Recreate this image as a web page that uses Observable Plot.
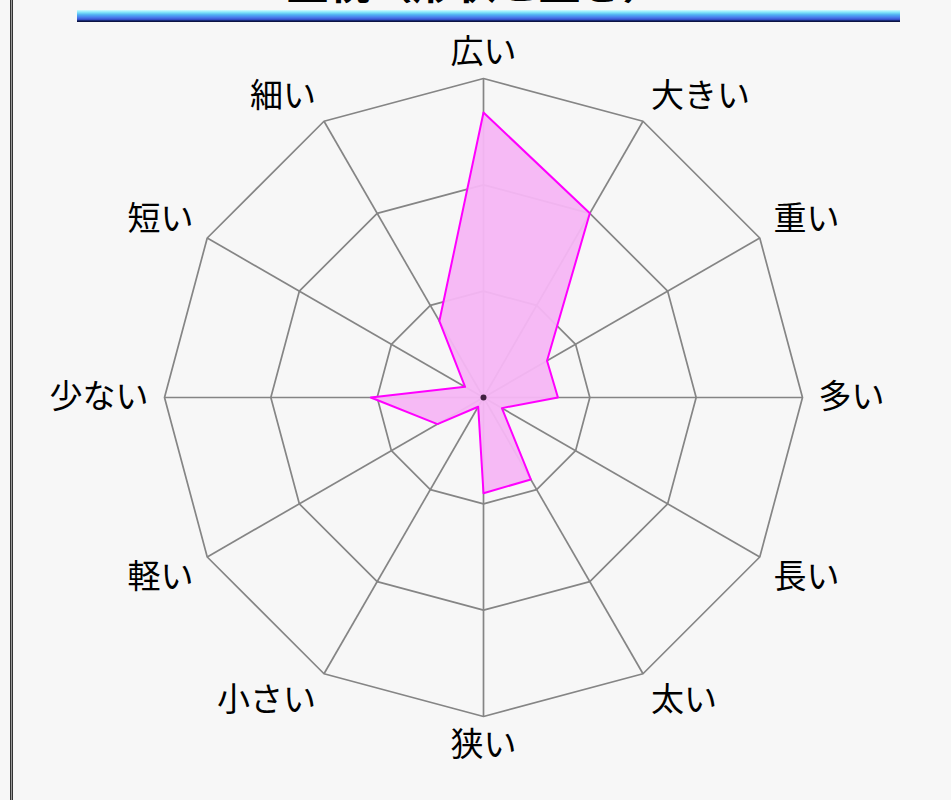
<!DOCTYPE html>
<html><head><meta charset="utf-8">
<script src="https://cdn.jsdelivr.net/npm/d3@7"></script>
<script src="https://cdn.jsdelivr.net/npm/@observablehq/plot@0.6"></script>
<style>
body{margin:0;background:#f7f7f7;width:951px;height:800px;overflow:hidden;position:relative;font-family:"Noto Sans CJK JP",sans-serif;}
#border{position:absolute;left:10px;top:0;width:1px;height:800px;border-left:1px solid #333;border-right:1px solid #333;background:#999;}
#title{position:absolute;top:-40px;left:0;width:951px;text-align:center;font-size:42px;font-weight:bold;line-height:42px;color:#000;}
#bar{position:absolute;left:77px;top:10px;width:823px;height:12px;background:linear-gradient(to bottom,#d0fbff 0%,#80e4fa 20%,#50b0f2 40%,#4a80ee 60%,#3a56d4 78%,#102060 90%,#0a0a30 100%);}
#chart{position:absolute;left:0;top:0;}
</style></head>
<body>
<div id="border"></div>
<div id="title">重視（形状と重さ）</div>
<div id="bar"></div>
<div id="chart"></div>
<script>
const axes = ["広い","大きい","重い","多い","長い","太い","狭い","小さい","軽い","少ない","短い","細い"];
const values = [2.68, 2.0, 0.69, 0.70, 0.2, 0.89, 0.9, 0.1, 0.5, 1.06, 0.2, 0.83];
const rings = [1, 2, 3];
const maxValue = 3;

const W = 951, H = 800, cx = 483, cy = 397, Rpx = 319;
const k = Rpx / maxValue;
const ang = i => i * 2 * Math.PI / axes.length;
const px = (r, i) => r * Math.sin(ang(i));
const py = (r, i) => r * Math.cos(ang(i));

const ringPts = rings.flatMap(r => axes.map((a, i) => ({ring: r, x: px(r, i), y: py(r, i)})));
const spokes = axes.map((a, i) => ({x2: px(maxValue, i), y2: py(maxValue, i)}));
const poly = axes.map((a, i) => ({x: px(values[i], i), y: py(values[i], i)}));

const labelR = 3.15;
const labelMarks = axes.map((a, i) => {
  const s = Math.sin(ang(i)), c = Math.cos(ang(i));
  const anchor = Math.abs(s) < 0.01 ? "middle" : (s > 0 ? "start" : "end");
  const line = Math.abs(c) < 0.01 ? "middle" : (c > 0 ? "bottom" : "top");
  return Plot.text([{x: px(labelR, i), y: py(labelR, i), t: a}], {
    x: "x", y: "y", text: "t", textAnchor: anchor, lineAnchor: line,
    fontSize: 33, fill: "#000", fontFamily: "Noto Sans CJK JP"
  });
});

const chart = Plot.plot({
  width: W, height: H,
  marginTop: 0, marginBottom: 0, marginLeft: 0, marginRight: 0,
  style: {background: "transparent", overflow: "visible"},
  x: {domain: [-cx / k, (W - cx) / k], range: [0, W], axis: null},
  y: {domain: [-(H - cy) / k, cy / k], range: [H, 0], axis: null},
  marks: [
    Plot.line(ringPts, {x: "x", y: "y", z: "ring", curve: "linear-closed", stroke: "#858585", strokeWidth: 1.7}),
    Plot.link(spokes, {x1: 0, y1: 0, x2: "x2", y2: "y2", stroke: "#858585", strokeWidth: 1.7}),
    Plot.line(poly, {x: "x", y: "y", curve: "linear-closed", fill: "#f6b6f4", fillOpacity: 0.95, stroke: "#ff00ff", strokeWidth: 2}),
    Plot.dot([{x: 0, y: 0}], {x: "x", y: "y", r: 3, fill: "#402040"}),
    ...labelMarks
  ]
});
document.getElementById("chart").appendChild(chart);
</script>
</body></html>
